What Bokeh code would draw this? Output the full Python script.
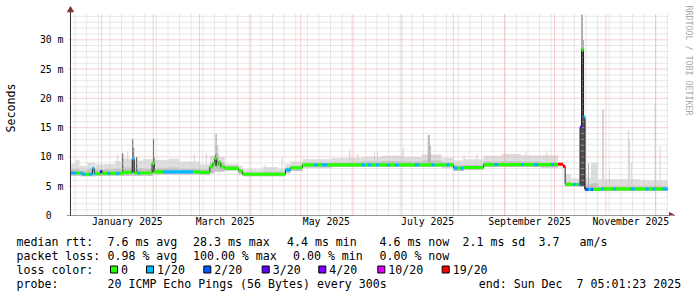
import math
import bisect
from datetime import datetime, timedelta

from bokeh.plotting import figure
from bokeh.layouts import column
from bokeh.models import Range1d, FixedTicker, ColumnDataSource
from bokeh.core.properties import value
from bokeh.embed import file_html
from bokeh.resources import INLINE

# ---------------------------------------------------------------- data
T0 = datetime(2024, 12, 13, 5, 1, 23)      # start of the graph window
SPAN_DAYS = 360.0
Y_TOP = 34.32                              # ms at the top of the graph

y_ticks = [0, 5, 10, 15, 20, 25, 30]
y_tick_labels = ["0\u00a0\u00a0", "5 m", "10 m", "15 m", "20 m", "25 m", "30 m"]
label_months = [(2025, 1), (2025, 3), (2025, 5), (2025, 7), (2025, 9), (2025, 11)]
month_names = ["January", "February", "March", "April", "May", "June", "July",
               "August", "September", "October", "November", "December"]

# median rtt, step series: day offset from start -> ms
med_t = [0, 7.2, 13.2, 14.4, 18.0, 19.2, 31.8, 37.2, 38.4, 49.2, 50.4, 78.0,
         84.0, 85.8, 87.0, 88.2, 89.4, 90.6, 93.0, 101.4, 103.8, 129.6, 132.6,
         139.8, 231.0, 237.0, 249.0, 294.0, 297.0, 298.2, 307.2, 308.1, 309.3,
         310.2, 319.8]
med_v = [7.25, 7.05, 8.0, 7.15, 7.5, 7.2, 7.35, 9.7, 7.25, 8.9, 7.45, 7.35,
         8.3, 8.9, 9.7, 8.7, 9.1, 8.3, 8.05, 7.6, 7.05, 7.8, 8.15,
         8.65, 8.1, 8.2, 8.7, 8.75, 8.4, 5.3, 15.1, 28.3, 16.8,
         4.45, 4.55]

# packet loss level runs: day offset -> index into loss_names
loss_t = [0, 3.6, 6, 9, 11.4, 15, 18, 19.2, 22.2, 24, 27.6, 29.4, 36.6, 38.4,
          40.2, 42, 55.8, 73.8, 129.6, 132.6, 147, 148.8, 151.8, 154.8, 175.8,
          177.6, 179.4, 181.2, 184.2, 186, 190.8, 192.6, 195.6, 198, 207.6, 210,
          217.8, 219.6, 226.8, 228.6, 231, 233.4, 235.2, 237, 255.6, 258, 271.8,
          273, 279.6, 282, 289.8, 291.6, 294, 298.2, 303, 304.8, 306, 307.2,
          308.1, 309.3, 310.2, 312, 313.8, 315, 319.8, 321.6, 327, 328.8, 337.8,
          340.2, 346.8, 348.6, 351, 352.8, 357]
loss_l = [1, 0, 1, 0, 1, 0, 3, 0, 1, 0, 1, 0, 1, 0,
          1, 0, 1, 0, 1, 0, 1, 0, 1, 0, 1,
          0, 1, 0, 1, 0, 1, 0, 1, 0, 1, 0,
          1, 0, 1, 0, 1, 0, 1, 0, 1, 0, 1,
          0, 1, 0, 1, 0, 6, 0, 1, 0, 1, 3,
          0, 1, 2, 1, 2, 0, 1, 0, 1, 0, 1,
          0, 1, 0, 1, 0, 1]
loss_names = ["0", "1/20", "2/20", "3/20", "4/20", "10/20", "19/20"]
loss_colors = ["#26ff00", "#00b8ff", "#0059ff", "#5e00ff", "#7e00ff",
               "#dd00ff", "#ff0000"]

# smoke (spread of the 20 pings), step series: day -> ms
smoke_t = [0, 3, 5.4, 10.2, 15, 19.8, 27, 30.6, 36.6, 43.8, 49.8, 59.4, 65.4,
           78, 84, 87, 89.4, 93, 101.4, 103.8, 115.8, 124.8, 129.6, 132.6,
           139.8, 157.8, 175.8, 187.8, 199.8, 211.8, 223.8, 231, 237, 249,
           259.8, 271.8, 283.8, 294, 298.2, 301.8, 307.2, 310.2, 313.8, 318,
           343.8]
smoke_lo = [6.8, 6.8, 6.7, 6.7, 6.8, 6.8, 6.8, 6.8, 6.8, 6.8, 7.0, 7.0, 7.0,
            6.9, 7.2, 7.5, 7.5, 7.7, 7.0, 6.7, 6.7, 6.7, 7.2, 7.6,
            8.2, 8.3, 8.3, 8.3, 8.3, 8.3, 8.2, 7.6, 7.8, 8.3,
            8.3, 8.3, 8.2, 8.7, 5.0, 5.0, 5.0, 4.2, 4.2, 4.2,
            4.2]
smoke_mid = [7.9, 8.0, 7.7, 8.0, 7.8, 7.9, 8.0, 8.2, 8.1, 8.0, 8.1, 8.2, 8.0,
             7.9, 9.0, 10.5, 9.0, 8.5, 7.9, 7.4, 7.5, 7.5, 8.2, 8.5,
             9.0, 9.1, 9.2, 9.3, 9.2, 9.4, 9.1, 8.6, 8.6, 9.2,
             9.3, 9.2, 9.1, 8.7, 5.8, 5.6, 5.6, 5.3, 5.5, 4.9,
             4.9]
smoke_hi = [8.8, 9.5, 8.5, 9.0, 8.7, 8.8, 9.3, 9.7, 9.4, 9.6, 9.5, 9.7, 9.2,
            8.7, 10.2, 12.0, 10.0, 8.8, 8.5, 7.9, 8.3, 8.0, 8.8, 9.2,
            9.6, 9.8, 10.0, 10.2, 10.0, 10.4, 9.8, 9.4, 9.6, 10.2,
            10.5, 10.3, 10.3, 8.7, 7.0, 6.3, 6.3, 6.5, 9.0, 6.2,
            6.0]

# single-step smoke spikes: day, low, high, depth (0 light, 1 mid, 2 dark)
spike_t = [28.2, 31.2, 34.2, 37.2, 37.8, 39.6, 49.8, 50.4, 74.4, 81.6,
           87.0, 87.6, 87.0, 87.6, 117.0, 127.2, 168.0, 172.8, 183.0, 184.8,
           200.4, 215.4, 216.0, 216.6, 237.0, 244.8, 261.6, 274.2, 286.8,
           307.8, 308.4, 309.0, 307.2, 307.8, 308.4, 309.0, 309.6, 312.0,
           320.4, 321.0, 324.6, 336.0, 336.6, 337.8, 352.2, 355.2]
spike_lo = [7.4, 7.4, 7.4, 7.4, 7.4, 7.4, 7.4, 7.4, 7.4, 7.3,
            8.0, 8.0, 8.5, 8.5, 6.8, 6.8, 8.5, 8.5, 8.5, 8.5,
            8.5, 8.5, 8.5, 8.5, 8.0, 8.0, 8.5, 8.5, 8.5,
            5.0, 5.0, 5.0, 5.0, 5.0, 5.0, 5.0, 4.5, 4.5,
            4.5, 4.5, 4.5, 4.5, 4.5, 4.5, 4.5, 4.5]
spike_hi = [10.5, 10.6, 11.0, 13.1, 11.5, 10.0, 13.1, 10.0, 10.5, 10.6,
            13.9, 13.9, 10.3, 10.0, 8.7, 9.8, 11.1, 10.5, 10.8, 10.8,
            11.6, 13.7, 13.8, 12.0, 10.3, 10.5, 10.6, 10.8, 11.0,
            34.3, 34.3, 30.0, 15.0, 28.0, 28.0, 17.0, 17.0, 8.9,
            18.1, 18.1, 7.8, 14.5, 13.0, 9.0, 19.1, 11.8]
spike_kind = [0, 2, 0, 2, 2, 2, 2, 1, 0, 0,
              0, 1, 2, 2, 0, 0, 0, 0, 0, 0,
              0, 1, 1, 1, 0, 0, 0, 0, 0,
              1, 1, 1, 2, 2, 2, 2, 2, 1,
              0, 0, 0, 0, 0, 0, 0, 0]

legend_rows = [
    ["median rtt:", "7.6 ms avg", "28.3 ms max", "4.4 ms min", "4.6 ms now",
     "2.1 ms sd", "3.7", "am/s"],
    ["packet loss:", "0.98 % avg", "100.00 % max", "0.00 % min", "0.00 % now"],
]
loss_title = "loss color:"
probe_text = ["probe:", "20 ICMP Echo Pings (56 Bytes) every 300s",
              "end: Sun Dec\u00a0\u00a07 05:01:23 2025"]
unit_label = "Seconds"
watermark = "RRDTOOL / TOBI OETIKER"

# ---------------------------------------------------------------- style
FONT = "DejaVu Sans Mono"
SMOKE_LIGHT, SMOKE_MID = "#dedede", "#c2c2c2"
SPIKE_SHADES = ["#d4d4d4", "#ababab", "#4a4a4a"]
BAND = 0.27          # half thickness of the loss coloured median band (ms)
STEP = 0.6           # one graph column (days)
MINOR_GRID = "#cfcfcf"
MAJOR_GRID = "#eda3a3"
AXIS_COL = "#303030"
ARROW_COL = "#7f3333"

W, H_MAIN = 697, 233
GX0, GX1, GY0, GY1 = 67, 667, 14, 215     # graph area (image pixels)
FX0 = 63                                   # main frame left edge
PX_X = SPAN_DAYS / (GX1 - GX0)             # days per pixel
PX_Y = Y_TOP / (GY1 - GY0)                 # ms per pixel


def dx(px):
    return (px - GX0) * PX_X


def dy(py):
    return (GY1 - py) * PX_Y


def day_of(dt):
    return (dt - T0).total_seconds() / 86400.0


p = figure(width=W, height=H_MAIN, x_range=Range1d(dx(FX0), dx(W)),
           y_range=Range1d(0, dy(0)), output_backend="svg",
           toolbar_location=None, min_border_left=FX0, min_border_right=0,
           min_border_top=0, min_border_bottom=H_MAIN - GY1)
p.frame_align = False
p.background_fill_color = "white"
p.border_fill_color = "white"
p.outline_line_color = None
p.grid.visible = False

# ---- time positions
end_dt = T0 + timedelta(days=SPAN_DAYS)
month_starts = []
yy, mm = 2025, 1
while datetime(yy, mm, 1) < end_dt:
    month_starts.append(day_of(datetime(yy, mm, 1)))
    yy, mm = (yy + 1, 1) if mm == 12 else (yy, mm + 1)
weeks = []
d = datetime(2024, 12, 16)
while d < end_dt:
    weeks.append(day_of(d))
    d += timedelta(days=7)

label_pos, label_txt = [], []
for (y_, m_) in label_months:
    a = datetime(y_, m_, 1)
    b = datetime(y_ + (m_ == 12), m_ % 12 + 1, 1)
    label_pos.append(round((day_of(a) + day_of(b)) / 2, 3))
    label_txt.append("%s %d" % (month_names[m_ - 1], y_))

# ---- axes (labels only, lines drawn below with arrows)
p.xaxis.ticker = FixedTicker(ticks=label_pos, minor_ticks=[])
p.xaxis.major_label_overrides = dict(zip(label_pos, label_txt))
p.yaxis.ticker = FixedTicker(ticks=y_ticks, minor_ticks=[])
p.yaxis.major_label_overrides = dict(zip(y_ticks, y_tick_labels))
for ax in (p.xaxis, p.yaxis):
    ax.axis_line_color = None
    ax.major_tick_line_color = None
    ax.minor_tick_line_color = None
    ax.major_tick_out = 0
    ax.major_tick_in = 0
    ax.major_label_text_font = FONT
    ax.major_label_text_font_size = "9.8px"
    ax.major_label_text_color = "black"
p.xaxis.major_label_standoff = 0
p.yaxis.major_label_standoff = 3
p.yaxis.axis_label = unit_label
p.yaxis.axis_label_text_font = FONT
p.yaxis.axis_label_text_font_size = "11.6px"
p.yaxis.axis_label_text_font_style = "normal"
p.yaxis.axis_label_text_color = "black"
p.yaxis.axis_label_standoff = 19

# ---- smoke
end = SPAN_DAYS
sm_right = smoke_t[1:] + [end]


def spikes(kind, color):
    idx = [i for i, k in enumerate(spike_kind) if k == kind]
    p.quad(left=[spike_t[i] for i in idx], right=[spike_t[i] + STEP for i in idx],
           bottom=[spike_lo[i] for i in idx], top=[spike_hi[i] for i in idx],
           fill_color=color, line_color=None)


p.quad(left=smoke_t, right=sm_right, bottom=smoke_lo, top=smoke_hi,
       fill_color=SMOKE_LIGHT, line_color=None)
spikes(0, SPIKE_SHADES[0])
p.quad(left=smoke_t, right=sm_right, bottom=smoke_lo, top=smoke_mid,
       fill_color=SMOKE_MID, line_color=None)
spikes(1, SPIKE_SHADES[1])
spikes(2, SPIKE_SHADES[2])

# ---- grid (dotted, drawn over the smoke like rrdtool)
g_top = dy(GY0 - 0.5)
minor_y = [v for v in range(1, 35) if v % 5]
major_y = [v for v in y_ticks if v > 0]
minor_x = [w for w in weeks if 0 < w < end]
major_x = [m for m in month_starts if 0 < m < end]
p.segment(x0=[0] * len(minor_y), x1=[end] * len(minor_y), y0=minor_y, y1=minor_y,
          line_color=MINOR_GRID, line_dash="1 1", line_width=1)
p.segment(x0=minor_x, x1=minor_x, y0=[0] * len(minor_x), y1=[g_top] * len(minor_x),
          line_color=MINOR_GRID, line_dash="1 1", line_width=1)
p.segment(x0=[-2 * PX_X] * len(major_y), x1=[end] * len(major_y), y0=major_y,
          y1=major_y, line_color=MAJOR_GRID, line_dash="1 1", line_width=1)
p.segment(x0=major_x, x1=major_x, y0=[0] * len(major_x), y1=[g_top] * len(major_x),
          line_color=MAJOR_GRID, line_dash="1 1", line_width=1)

# ---- median line and loss coloured band
p.step(x=med_t + [end], y=med_v + [med_v[-1]], mode="after",
       line_color="#202020", line_width=1)
edges = sorted(set(med_t) | set(loss_t))
edges = [e for e in edges if e < end] + [end]
seg = dict(left=[], right=[], bottom=[], top=[], color=[])
for a, b in zip(edges[:-1], edges[1:]):
    mv = med_v[bisect.bisect_right(med_t, a) - 1]
    lv = loss_l[bisect.bisect_right(loss_t, a) - 1]
    seg["left"].append(a)
    seg["right"].append(b)
    seg["bottom"].append(mv - BAND)
    seg["top"].append(mv + BAND)
    seg["color"].append(loss_colors[lv])
p.quad(source=ColumnDataSource(seg), left="left", right="right",
       bottom="bottom", top="top", fill_color="color", line_color=None)

# ---- axis lines with arrow heads
p.segment(x0=[0, dx(FX0)], y0=[dy(GY1 + 3), 0], x1=[0, dx(670)], y1=[dy(11), 0],
          line_color=AXIS_COL, line_width=1)
p.scatter(x=[0], y=[dy(9.6)], marker="triangle", size=6,
          fill_color=ARROW_COL, line_color=ARROW_COL)
p.scatter(x=[dx(670.6)], y=[0], marker="triangle", size=6, angle=-math.pi / 2,
          fill_color=ARROW_COL, line_color=ARROW_COL)

# ---- watermark
p.text(x=[dx(688)], y=[dy(5)], text=[watermark], angle=-math.pi / 2,
       text_font=value(FONT), text_font_size=value("8.3px"),
       text_color="#a9a9a9", text_align="left", text_baseline="middle")

# ---------------------------------------------------------------- legend
H_LEG = 297 - H_MAIN
q = figure(width=W, height=H_LEG, x_range=Range1d(0, W),
           y_range=Range1d(297, H_MAIN), output_backend="svg",
           toolbar_location=None, x_axis_type=None, y_axis_type=None,
           min_border=0, min_border_left=0, min_border_right=0,
           min_border_top=0, min_border_bottom=0)
q.frame_align = False
q.outline_line_color = None
q.background_fill_color = "white"
q.border_fill_color = "white"
q.grid.visible = False

row_x = [[16, 107, 192.5, 286.5, 379, 462, 538, 579],
         [16, 107, 192.5, 292.5, 379]]
tx, ty, tt = [], [], []
for r, (xs, items) in enumerate(zip(row_x, legend_rows)):
    for px, s in zip(xs, items):
        tx.append(px)
        ty.append(241 + 14 * r)
        tt.append(s)
tx.append(16)
ty.append(269)
tt.append(loss_title)
sq_x = [110, 146, 203.3, 261.7, 318.3, 377.3, 441.7]
for px, name in zip(sq_x, loss_names):
    tx.append(px + 10.5)
    ty.append(269)
    tt.append(name)
for px, s in zip([16, 107, 478.3], probe_text):
    tx.append(px)
    ty.append(283)
    tt.append(s)
q.text(x=tx, y=ty, text=tt, text_font=value(FONT),
       text_font_size=value("11.6px"), text_color="black",
       text_align="left", text_baseline="middle")
q.quad(left=sq_x, right=[v + 7 for v in sq_x], top=[265.5] * len(sq_x),
       bottom=[272.5] * len(sq_x), fill_color=loss_colors, line_color="black",
       line_width=1)

layout = column(p, q, spacing=0)
open("out.html", "w").write(file_html(layout, INLINE))
